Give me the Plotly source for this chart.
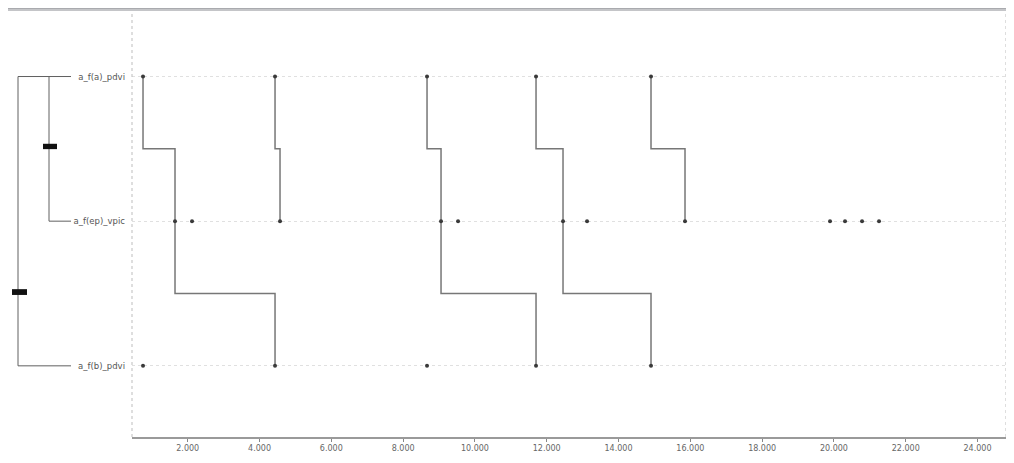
import plotly.graph_objects as go

# ---- data ----
row_labels = ["a_f(a)_pdvi", "a_f(ep)_vpic", "a_f(b)_pdvi"]
row_index = [0, 1, 2]
top_events = [755, 4432, 8666, 11702, 14905]
mid_events = [1646, 2120, 4571, 9056, 9530, 12454, 13123, 15852, 19891, 20309, 20783, 21256]
bot_events = [755, 4432, 8666, 11702, 14905]
# linked chains: start row, x positions on consecutive rows
chain_start = [0, 0, 0, 0, 0]
chain_x = [[755, 1646, 4432], [4432, 4571], [8666, 9056, 11702], [11702, 12454, 14905], [14905, 15852]]
x_ticks = [2000, 4000, 6000, 8000, 10000, 12000, 14000, 16000, 18000, 20000, 22000, 24000]

OFF = 8  # page body margin
W, H = 1014 - OFF, 463 - OFF
ML, MR, MT, MB = 132 - OFF, 8, 12 - OFF, 26
PW = W - ML - MR
PH = H - MT - MB

def px_x(p):  # page pixel -> paper x
    return (p - OFF - ML) / PW

def px_y(p):  # page pixel -> paper y
    return (H - MB - (p - OFF)) / PH

fig = go.Figure()

# step links
lx, ly = [], []
for s, xs in zip(chain_start, chain_x):
    for k in range(len(xs) - 1):
        r = s + k
        lx += [xs[k], xs[k], xs[k + 1], xs[k + 1], None]
        ly += [r, r + 0.5, r + 0.5, r + 1, None]
fig.add_trace(go.Scatter(x=lx, y=ly, mode="lines",
                         line=dict(color="#777777", width=1.5),
                         hoverinfo="skip", showlegend=False))

# event dots
for evs, r in zip([top_events, mid_events, bot_events], row_index):
    fig.add_trace(go.Scatter(x=evs, y=[r] * len(evs), mode="markers",
                             marker=dict(color="#3a3a3a", size=4),
                             showlegend=False))

shapes = []
# frame (screenshot border)
shapes.append(dict(type="rect", xref="paper", yref="paper",
                   x0=px_x(0), x1=px_x(1014), y0=px_y(10), y1=px_y(0),
                   fillcolor="#a9aaae", line_width=0, layer="below"))
shapes.append(dict(type="rect", xref="paper", yref="paper",
                   x0=px_x(0), x1=px_x(1014), y0=px_y(11), y1=px_y(9),
                   fillcolor="#c4c5c8", line_width=0, layer="below"))
# dashed side borders
for xp in (0, 1):
    shapes.append(dict(type="line", xref="paper", yref="paper",
                       x0=xp, x1=xp, y0=0, y1=1,
                       line=dict(color="#bdbdbd", width=1, dash="dot")))

# left bracket (row relations)
bx_out, bx_in, bx_end = px_x(18), px_x(49), px_x(71)
bc = dict(color="#606060", width=1)
shapes += [
    dict(type="line", xref="paper", yref="y", x0=bx_out, x1=bx_out, y0=row_index[0], y1=row_index[2], line=bc),
    dict(type="line", xref="paper", yref="y", x0=bx_in, x1=bx_in, y0=row_index[0], y1=row_index[1], line=bc),
    dict(type="line", xref="paper", yref="y", x0=bx_out, x1=bx_end, y0=row_index[0], y1=row_index[0], line=bc),
    dict(type="line", xref="paper", yref="y", x0=bx_in, x1=bx_end, y0=row_index[1], y1=row_index[1], line=bc),
    dict(type="line", xref="paper", yref="y", x0=bx_out, x1=bx_end, y0=row_index[2], y1=row_index[2], line=bc),
    dict(type="rect", xref="paper", yref="y", x0=px_x(43), x1=px_x(57), y0=0.465, y1=0.502,
         fillcolor="#111111", line_width=0),
    dict(type="rect", xref="paper", yref="y", x0=px_x(12), x1=px_x(27), y0=1.47, y1=1.51,
         fillcolor="#111111", line_width=0),
]

fig.update_layout(
    width=W, height=H,
    margin=dict(l=ML, r=MR, t=MT, b=MB),
    paper_bgcolor="white", plot_bgcolor="white",
    separators=",.",
    font=dict(family="DejaVu Sans", size=8, color="#666666"),
    shapes=shapes,
    xaxis=dict(range=[448, 24793], tickvals=x_ticks, tickformat=",.0f",
               showgrid=False, zeroline=False,
               showline=True, linecolor="#9a9a9a", linewidth=1.5,
               ticks="outside", ticklen=3, tickcolor="#888888",
               tickfont=dict(size=8, color="#666666")),
    yaxis=dict(range=[2.492, -0.446], tickvals=row_index, ticktext=row_labels,
               showgrid=True, gridcolor="#e0e0e0", griddash="dot", gridwidth=1,
               zeroline=False, showline=False, ticks="", ticklabelstandoff=6,
               tickfont=dict(size=8.5, color="#555555")),
)

fig.write_html("out.html")
